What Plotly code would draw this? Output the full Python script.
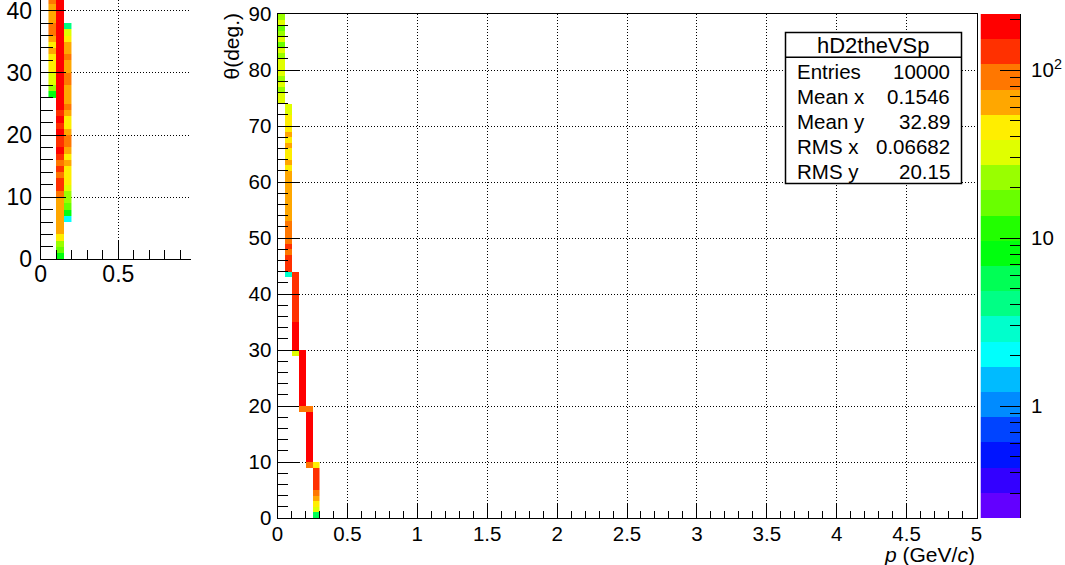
import math
import colorsys
import plotly.graph_objects as go

W, H = 1065, 565

# ---------------------------------------------------------------------------
# Histogram contents: theta (1 deg bins) vs p (0.05 GeV/c bins).
# Each list holds the counts of one p bin, going upward from its first theta bin.
# ---------------------------------------------------------------------------
P_BIN = 0.05
TH_BIN = 1.0

# main pad: hD2theVSp, p bins 0-0.05 ... 0.25-0.30
main_theta_start = [74, 43, 29, 19, 9, 0]
main_p0 = [35, 33, 23, 31, 24, 29, 32, 30, 21, 29, 18, 28, 20, 17, 30, 22]
main_p1 = [3, 118, 125, 120, 105, 112, 95, 90, 85, 80, 74, 72, 70, 68, 65, 66,
           64, 62, 60, 53, 57, 50, 52, 56, 50, 58, 48, 45, 42, 35, 32]
main_p2 = [32, 190, 185, 175, 165, 158, 148, 142, 138, 135, 140, 132, 128, 125, 120]
main_p3 = [88, 195, 200, 205, 198, 210, 200, 195, 190, 185, 180]
main_p4 = [95, 205, 215, 208, 200, 210, 198, 205, 200, 192, 90]
main_p5 = [6, 32, 45, 65, 95, 128, 135, 140, 130, 45]

# neighbouring pad (partly hidden), p bins 0.05-0.10, 0.10-0.15, 0.15-0.20
left_first_pbin = 1
left_theta_start = [26, 0, 6]
left_p1 = [8, 22, 30, 35, 42, 45, 48, 56, 50, 62, 80, 85, 60, 65, 70, 90]
left_p2 = [8, 16, 22, 45, 62, 65, 68, 70, 72, 74, 95, 125, 120, 100, 118, 105,
           120, 160, 135, 140, 165, 145, 162, 140, 170, 175, 180, 178, 185, 190,
           188, 195, 200, 198, 205, 200, 210, 205, 208, 200, 195, 190]
left_p3 = [2, 8, 16, 22, 26, 34, 40, 42, 45, 56, 50, 62, 80, 78, 60, 50, 48, 58,
           80, 62, 65, 60, 82, 80, 62, 65, 82, 60, 58, 45, 35, 4]

# statistics box
stats_title = "hD2theVSp"
stats_labels = ["Entries", "Mean x", "Mean y", "RMS x", "RMS y"]
stats_values = ["10000", "0.1546", "32.89", "0.06682", "20.15"]

# colour axis (log z): maximum content, 3 decades shown, 20 contour levels
Z_MAX = 215.5
Z_DECADES = 3.0
N_LEVELS = 20
cbar_tickvals = [0, 1, 2]
cbar_ticktext = ["1", "10", "10<sup>2</sup>"]

FONT = "Liberation Sans, Arial, Helvetica, sans-serif"
SIZE_MAIN = 20.5
SIZE_TITLE = 21
SIZE_LEFT = 23


def fx(px):
    return px / W


def fy(py):
    return 1 - py / H


def build_grid(n_theta, starts, cols):
    z = [[None] * len(cols) for _ in range(n_theta)]
    for j, (s, vals) in enumerate(zip(starts, cols)):
        for i, v in enumerate(vals):
            z[s + i][j] = math.log10(v)
    return z


# ROOT "pretty" violet->red palette (50 hues), sampled for 20 contour levels
def level_color(k):
    idx = int((k + 0.99) * 50 / N_LEVELS)
    hue = 280.0 - (idx + 1) * 5.6
    r, g, b = colorsys.hls_to_rgb(hue / 360.0, 0.5, 1.0)
    return "rgb(%d,%d,%d)" % (round(r * 255), round(g * 255), round(b * 255))


zmax_log = math.log10(Z_MAX)
zmin_log = zmax_log - Z_DECADES
lev_w = (zmax_log - zmin_log) / N_LEVELS
colorscale = []
for k in range(N_LEVELS):
    c = level_color(k)
    colorscale.append([k / N_LEVELS, c])
    colorscale.append([(k + 1) / N_LEVELS, c])

main_cols = [main_p0, main_p1, main_p2, main_p3, main_p4, main_p5]
z_main = build_grid(90, main_theta_start, main_cols)
left_cols = [left_p1, left_p2, left_p3]
z_left = build_grid(42, left_theta_start, left_cols)

heat_common = dict(colorscale=colorscale, zmin=zmin_log, zmax=zmax_log,
                   showscale=False, hoverinfo="skip", zsmooth=False)

fig = go.Figure()
fig.add_trace(go.Heatmap(z=z_main, x0=P_BIN / 2, dx=P_BIN, y0=TH_BIN / 2, dy=TH_BIN,
                         xaxis="x", yaxis="y", **heat_common))
fig.add_trace(go.Heatmap(z=z_left, x0=left_first_pbin * P_BIN + P_BIN / 2, dx=P_BIN,
                         y0=TH_BIN / 2, dy=TH_BIN, xaxis="x2", yaxis="y2", **heat_common))
# palette bar
fig.add_trace(go.Heatmap(z=[[zmin_log + (k + 0.5) * lev_w] for k in range(N_LEVELS)],
                         x0=0.5, dx=1, y0=zmin_log + lev_w / 2, dy=lev_w,
                         xaxis="x3", yaxis="y3", **heat_common))

grid_style = dict(showgrid=True, gridcolor="black", gridwidth=1, griddash="1px,2px")
line_style = dict(showline=True, linecolor="black", linewidth=1, zeroline=False,
                  ticks="inside", tickcolor="black", tickwidth=1, layer="above traces",
                  automargin=False, ticklabeloverflow="allow")
tick_font = dict(family=FONT, size=SIZE_MAIN, color="black")
left_font = dict(family=FONT, size=SIZE_LEFT, color="black")

fig.update_layout(
    width=W, height=H, margin=dict(l=0, r=0, t=0, b=0, pad=0, autoexpand=False),
    paper_bgcolor="white", plot_bgcolor="white", showlegend=False,
    xaxis=dict(domain=[fx(277.5), fx(976.5)], range=[0, 5], tick0=0, dtick=0.5,
               ticklen=15, mirror=True, tickfont=tick_font, ticklabelstandoff=-3,
               minor=dict(dtick=0.1, ticklen=7.5, ticks="inside", tickcolor="black"),
               anchor="y", **line_style, **grid_style),
    yaxis=dict(domain=[fy(518), fy(14)], range=[0, 90], tick0=0, dtick=10,
               ticklen=21, mirror=True, tickfont=tick_font, ticklabelstandoff=1,
               minor=dict(dtick=2, ticklen=10.5, ticks="inside", tickcolor="black"),
               anchor="x", **line_style, **grid_style),
    xaxis2=dict(domain=[fx(40.7), fx(191)], range=[0, 0.968], tick0=0, dtick=0.5,
                ticklen=19, tickfont=left_font, ticklabelstandoff=-6,
                minor=dict(dtick=0.1, ticklen=9.5, ticks="inside", tickcolor="black"),
                anchor="y2", **line_style, **grid_style),
    yaxis2=dict(domain=[fy(259.3), 1], range=[0, 41.72], tick0=0, dtick=10,
                ticklen=25, tickfont=left_font, ticklabelstandoff=3,
                minor=dict(dtick=2, ticklen=12.5, ticks="inside", tickcolor="black"),
                anchor="x2", **line_style, **grid_style),
    xaxis3=dict(domain=[fx(980.5), fx(1020)], range=[0, 1], visible=False, anchor="y3",
                automargin=False),
    yaxis3=dict(domain=[fy(518), fy(14)], range=[zmin_log, zmax_log], side="right",
                anchor="x3", tickvals=cbar_tickvals, ticktext=cbar_ticktext,
                ticklen=20, tickfont=tick_font, showgrid=False, ticklabelstandoff=6,
                minor=dict(tickvals=[math.log10(m * 10 ** d) for d in (-1, 0, 1, 2)
                                     for m in range(2, 10)
                                     if zmin_log < math.log10(m * 10 ** d) < zmax_log],
                           ticklen=10, ticks="inside", tickcolor="black"),
                **line_style),
)

# axis titles
fig.add_annotation(x=fx(231), y=fy(11), xref="paper", yref="paper",
                   text="θ(deg.)", textangle=-90, showarrow=False,
                   xanchor="center", yanchor="top",
                   font=dict(family=FONT, size=SIZE_TITLE, color="black"))
fig.add_annotation(x=fx(977), y=fy(554), xref="paper", yref="paper",
                   text="<i>p</i> (GeV/<i>c</i>)", showarrow=False,
                   xanchor="right", yanchor="middle",
                   font=dict(family=FONT, size=SIZE_TITLE, color="black"))

# statistics box
bx0, bx1, by0, by1, by_line = 785.5, 961.5, 32.5, 183.5, 57.3
fig.add_shape(type="rect", xref="paper", yref="paper",
              x0=fx(bx0), x1=fx(bx1), y0=fy(by1), y1=fy(by0),
              line=dict(color="black", width=1.5), fillcolor="white", layer="above")
fig.add_shape(type="line", xref="paper", yref="paper",
              x0=fx(bx0), x1=fx(bx1), y0=fy(by_line), y1=fy(by_line),
              line=dict(color="black", width=1.5), layer="above")
fig.add_annotation(x=fx((bx0 + bx1) / 2), y=fy(45), xref="paper", yref="paper",
                   text=stats_title, showarrow=False, xanchor="center", yanchor="middle",
                   font=dict(family=FONT, size=22, color="black"))
for i, (lab, val) in enumerate(zip(stats_labels, stats_values)):
    yrow = fy(71 + 25.2 * i)
    fig.add_annotation(x=fx(795), y=yrow, xref="paper", yref="paper", text=lab,
                       showarrow=False, xanchor="left", yanchor="middle",
                       font=dict(family=FONT, size=SIZE_MAIN, color="black"))
    fig.add_annotation(x=fx(952), y=yrow, xref="paper", yref="paper", text=val,
                       showarrow=False, xanchor="right", yanchor="middle",
                       font=dict(family=FONT, size=SIZE_MAIN, color="black"))

fig.write_html("out.html")
